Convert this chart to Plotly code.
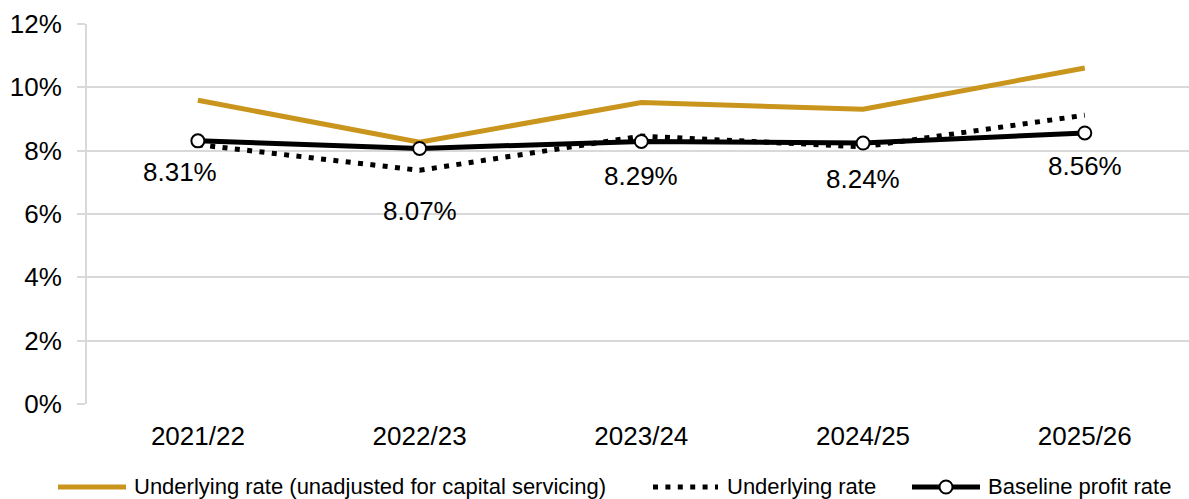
import plotly.graph_objects as go

years = ["2021/22", "2022/23", "2023/24", "2024/25", "2025/26"]
unadjusted_rate = [9.59, 8.27, 9.52, 9.31, 10.61]
underlying_rate = [8.19, 7.38, 8.46, 8.12, 9.12]
baseline_rate = [8.31, 8.07, 8.29, 8.24, 8.56]

series_names = [
    "Underlying rate (unadjusted for capital servicing)",
    "Underlying rate",
    "Baseline profit rate",
]

# vertical offset (px) of each value label below its marker, plus horizontal nudge
label_yshift = [-31, -63, -35, -36, -33]
label_xshift = [-18, 0, 0, 0, 0]

GOLD = "#C9951C"
GRID = "#D9D9D9"
FONT = "Liberation Sans, Arial, sans-serif"
DOTS = "5px,7.4px"

W, H = 1189, 499
ML, MR, MT, MB = 87, 0, 24, 95
PW, PH = W - ML - MR, H - MT - MB


def px_x(p):
    return (p - ML) / PW


def px_y(p):
    return (H - MB - p) / PH


fig = go.Figure()
fig.add_trace(go.Scatter(
    x=years, y=unadjusted_rate, mode="lines", name=series_names[0],
    line=dict(color=GOLD, width=5),
))
fig.add_trace(go.Scatter(
    x=years, y=underlying_rate, mode="lines", name=series_names[1],
    line=dict(color="black", width=5, dash=DOTS),
))
fig.add_trace(go.Scatter(
    x=years, y=baseline_rate, mode="lines+markers", name=series_names[2],
    line=dict(color="black", width=5),
    marker=dict(symbol="circle", size=13, color="white",
                line=dict(color="black", width=2)),
))

for x, v, dy, dx in zip(years, baseline_rate, label_yshift, label_xshift):
    fig.add_annotation(x=x, y=v, text=f"{v:.2f}%", showarrow=False,
                       yshift=dy, xshift=dx,
                       font=dict(family=FONT, size=26, color="black"))

# legend row drawn along the bottom
ly = px_y(487)
legend_items = [
    (58, 126, 132, dict(color=GOLD, width=5), False),
    (653, 718, 725, dict(color="black", width=5, dash=DOTS), False),
    (912, 980, 986, dict(color="black", width=5), True),
]
for (x0, x1, tx, line, circle), name in zip(legend_items, series_names):
    fig.add_shape(type="line", xref="paper", yref="paper",
                  x0=px_x(x0), x1=px_x(x1), y0=ly, y1=ly, line=line)
    if circle:
        cx, r = (x0 + x1) / 2, 6.5
        fig.add_shape(type="circle", xref="paper", yref="paper",
                      x0=px_x(cx - r), x1=px_x(cx + r),
                      y0=px_y(487 + r), y1=px_y(487 - r),
                      fillcolor="white", line=dict(color="black", width=2))
    fig.add_annotation(xref="paper", yref="paper", x=px_x(tx), y=ly,
                       xanchor="left", yanchor="middle", showarrow=False,
                       text=name, font=dict(family=FONT, size=22, color="black"))

fig.update_layout(
    width=W, height=H,
    margin=dict(l=ML, r=MR, t=MT, b=MB),
    paper_bgcolor="white", plot_bgcolor="white",
    font=dict(family=FONT, color="black"),
    showlegend=False,
    xaxis=dict(
        type="category", range=[-0.5, 4.47],
        showgrid=False, showline=False, ticks="",
        tickfont=dict(size=26), ticklabelstandoff=14,
    ),
    yaxis=dict(
        range=[0, 12], dtick=2, ticksuffix="%",
        showgrid=True, gridcolor=GRID, gridwidth=2,
        showline=True, linecolor=GRID, linewidth=2,
        ticks="outside", ticklen=8, tickcolor=GRID, tickwidth=2,
        tickfont=dict(size=26), ticklabelstandoff=10,
        zeroline=False,
    ),
)

fig.write_html("out.html")
